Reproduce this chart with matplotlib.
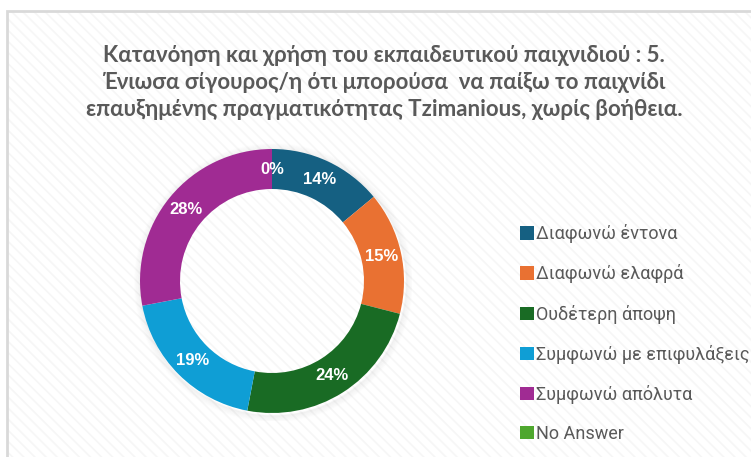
import matplotlib
matplotlib.use("Agg")
import matplotlib.pyplot as plt
from matplotlib.patches import Rectangle, Patch, Circle
import numpy as np

# survey answers (percent of respondents)
categories = ["Διαφωνώ έντονα", "Διαφωνώ ελαφρά", "Ουδέτερη άποψη",
              "Συμφωνώ με επιφυλάξεις", "Συμφωνώ απόλυτα", "No Answer"]
shares = [14, 15, 24, 19, 28, 0]
colors = ["#156082", "#E97132", "#196B24", "#0F9ED5", "#A02B93", "#4EA72E"]

title = ("Κατανόηση και χρήση του εκπαιδευτικού παιχνιδιού : 5.\n"
         "Ένιωσα σίγουρος/η ότι μπορούσα  να παίξω το παιχνίδι\n"
         "επαυξημένης πραγματικότητας Tzimanious, χωρίς βοήθεια.")

W, H = 751, 457
fig = plt.figure(figsize=(W / 100, H / 100), dpi=100)
fig.patch.set_facecolor("white")

# chart area frame with faint diagonal texture
plt.rcParams["hatch.linewidth"] = 1.2
frame = Rectangle((7 / W, 0), 1, 1 - 11 / H, transform=fig.transFigure,
                  facecolor="white", edgecolor="#f6f6f6", hatch="\\\\\\",
                  linewidth=0, zorder=0)
fig.patches.append(frame)
border = Rectangle((7 / W, -0.01), 1.1, 1 - 11 / H + 0.01, transform=fig.transFigure,
                   facecolor="none", edgecolor="#d9d9d9", linewidth=2, zorder=1)
fig.patches.append(border)

fig.text(384 / W, 1 - 45 / H, title, ha="center", va="top", fontsize=16,
         fontweight="bold", color="#595959", family="Lato", linespacing=1.36)

# donut
cx, cy, half = 272, H - 281, 140
ax = fig.add_axes([(cx - half) / W, (cy - half) / H, 2 * half / W, 2 * half / H])
ax.set_zorder(3)

R = 132 / half
ring = 40 / half

# soft shadow around the ring
for k in range(1, 8):
    ax.add_patch(Circle((0.01, -0.012), R + k / half, facecolor="none",
                        edgecolor="#000000", linewidth=1.2, alpha=0.035 * (8 - k) / 7,
                        zorder=0))

wedges, _ = ax.pie(shares, colors=colors, radius=R, startangle=90, counterclock=False,
                   wedgeprops=dict(width=ring, edgecolor="none", zorder=1))
ax.set_xlim(-1, 1)
ax.set_ylim(-1, 1)
ax.set_aspect("equal")
ax.axis("off")

mid = R - ring / 2
total = sum(shares)
start = 90.0
for v in shares:
    ang = np.deg2rad(start - 360.0 * v / total / 2)
    ax.text(mid * np.cos(ang), mid * np.sin(ang), f"{v}%", ha="center", va="center",
            fontsize=12, fontweight="bold", color="white", family="Liberation Sans",
            zorder=2)
    start -= 360.0 * v / total

handles = [Patch(facecolor=c, edgecolor="none") for c in colors]
leg = fig.legend(handles, categories, loc="upper left",
                 bbox_to_anchor=(504 / W, 1 - 208 / H), frameon=False,
                 handlelength=0.75, handleheight=0.75, handletextpad=0.12,
                 labelspacing=1.17, prop=dict(family="Roboto", size=13))
leg.set_zorder(4)
for t in leg.get_texts():
    t.set_color("#595959")

fig.savefig("out.png", dpi=100)
